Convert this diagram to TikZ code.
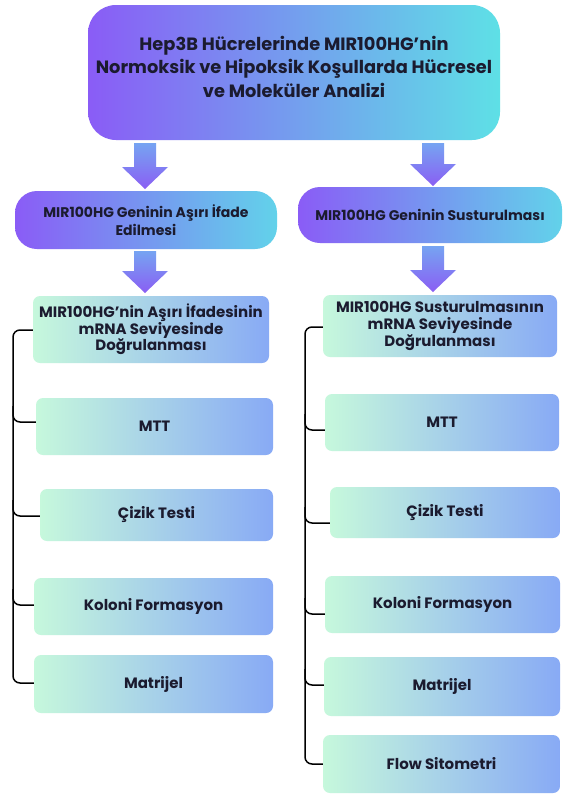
\documentclass[tikz,border=0pt]{standalone}
\usepackage{fontspec}
\setmainfont{Poppins}
\usetikzlibrary{calc}
\definecolor{vio}{HTML}{8A5CF6}
\definecolor{cya}{HTML}{5EE0E6}
\definecolor{cyb}{HTML}{62D2EA}
\definecolor{mint}{HTML}{C6F8DC}
\definecolor{blu}{HTML}{88AAF5}
\definecolor{arrtop}{HTML}{76A4F2}
\definecolor{arrbot}{HTML}{8A5EF3}
\definecolor{txt}{HTML}{1B1B2F}
\tikzset{
  topbox/.style={rounded corners=28pt, left color=vio, right color=cya, draw=none, inner sep=0pt},
  toptext/.style={inner sep=0pt, align=center, text=txt, font=\fontsize{17.8}{23.5}\selectfont\bfseries},
  midbox/.style={rounded corners=22pt, left color=vio, right color=cyb, draw=none, inner sep=0pt, align=center, text=txt, font=\fontsize{14}{18}\selectfont\bfseries},
  subbox/.style={rounded corners=7pt, left color=mint, right color=blu, draw=none, inner sep=0pt, align=center, text=txt, font=\fontsize{15}{16.7}\selectfont\bfseries},
  br/.style={draw=black, line width=1.5pt, rounded corners=7pt},
  fat/.style={top color=arrtop, bottom color=arrbot, draw=none}
}
\newcommand\fatarrow[2]{%
  \path[fat] let \p1=(#1), \p2=(#2) in
    (\x1-11pt,\y1) -- (\x1+11pt,\y1) -- (\x1+11pt,\y2+22pt) -- (\x1+23pt,\y2+22pt)
    -- (\x2,\y2) -- (\x1-23pt,\y2+22pt) -- (\x1-11pt,\y2+22pt) -- cycle;}
\begin{document}
\begin{tikzpicture}[x=1pt,y=-1pt]
\useasboundingbox (0,0) rectangle (563,796);
\fill[white] (0,0) rectangle (563,796);
% boxes
\node[topbox, minimum width=412pt, minimum height=135pt] (top) at (294,72.5) {};
\node[toptext] (title) at (294,66.5)
  {Hep3B Hücrelerinde MIR100HG’nin\\Normoksik ve Hipoksik Koşullarda Hücresel\\ve Moleküler Analizi};
\node[midbox, minimum width=262pt, minimum height=58pt] (mL) at (146,220)
  {MIR100HG Geninin Aşırı İfade\\Edilmesi};
\node[midbox, minimum width=264pt, minimum height=56pt] (mR) at (430,215)
  {MIR100HG Geninin Susturulması};
\node[subbox, minimum width=236pt, minimum height=67pt] (l1) at (151,329.5)
  {MIR100HG’nin Aşırı İfadesinin\\mRNA Seviyesinde\\Doğrulanması};
\node[subbox, minimum width=237pt, minimum height=57pt] (l2) at (154.5,426.5) {MTT};
\node[subbox, minimum width=233pt, minimum height=52pt] (l3) at (156.5,515) {Çizik Testi};
\node[subbox, minimum width=239pt, minimum height=57pt] (l4) at (153.5,606.5) {Koloni Formasyon};
\node[subbox, minimum width=239pt, minimum height=58pt] (l5) at (153.5,684) {Matrijel};
\node[subbox, minimum width=234pt, minimum height=62pt] (r1) at (440,326)
  {MIR100HG Susturulmasının\\mRNA Seviyesinde\\Doğrulanması};
\node[subbox, minimum width=234pt, minimum height=57pt] (r2) at (442,422.5) {MTT};
\node[subbox, minimum width=230pt, minimum height=51pt] (r3) at (445,512.5) {Çizik Testi};
\node[subbox, minimum width=235pt, minimum height=57pt] (r4) at (442.5,604.5) {Koloni Formasyon};
\node[subbox, minimum width=236pt, minimum height=59pt] (r5) at (442,686.5) {Matrijel};
\node[subbox, minimum width=237pt, minimum height=58pt] (r6) at (441.5,764) {Flow Sitometri};
% arrows
\coordinate (a1s) at (145,143); \coordinate (a1e) at (145,189);
\coordinate (a2s) at (145,251); \coordinate (a2e) at (145,293);
\coordinate (a3s) at (433,143); \coordinate (a3e) at (433,186);
\coordinate (a4s) at (433,246); \coordinate (a4e) at (433,292);
\fatarrow{a1s}{a1e}
\fatarrow{a2s}{a2e}
\fatarrow{a3s}{a3e}
\fatarrow{a4s}{a4e}
% left bracket
\coordinate (ls1) at (13,330); \coordinate (ls2) at (13,422);
\coordinate (ls3) at (13,516); \coordinate (ls4) at (13,605);
\coordinate (ls5) at (13,683);
\draw[br] (l1.west |- ls1) -- (ls1) -- (ls5) -- (l5.west |- ls5);
\draw[br] ($(ls2)+(0,-16)$) -- (ls2) -- (l2.west |- ls2);
\draw[br] ($(ls3)+(0,-16)$) -- (ls3) -- (l3.west |- ls3);
\draw[br] ($(ls4)+(0,-16)$) -- (ls4) -- (l4.west |- ls4);
% right bracket
\coordinate (rs1) at (305,327); \coordinate (rs2) at (305,430);
\coordinate (rs3) at (305,523); \coordinate (rs4) at (305,614);
\coordinate (rs5) at (305,685); \coordinate (rs6) at (305,764);
\draw[br] (r1.west |- rs1) -- (rs1) -- (rs6) -- (r6.west |- rs6);
\draw[br] ($(rs2)+(0,-16)$) -- (rs2) -- (r2.west |- rs2);
\draw[br] ($(rs3)+(0,-16)$) -- (rs3) -- (r3.west |- rs3);
\draw[br] ($(rs4)+(0,-16)$) -- (rs4) -- (r4.west |- rs4);
\draw[br] ($(rs5)+(0,-16)$) -- (rs5) -- (r5.west |- rs5);
\end{tikzpicture}
\end{document}
